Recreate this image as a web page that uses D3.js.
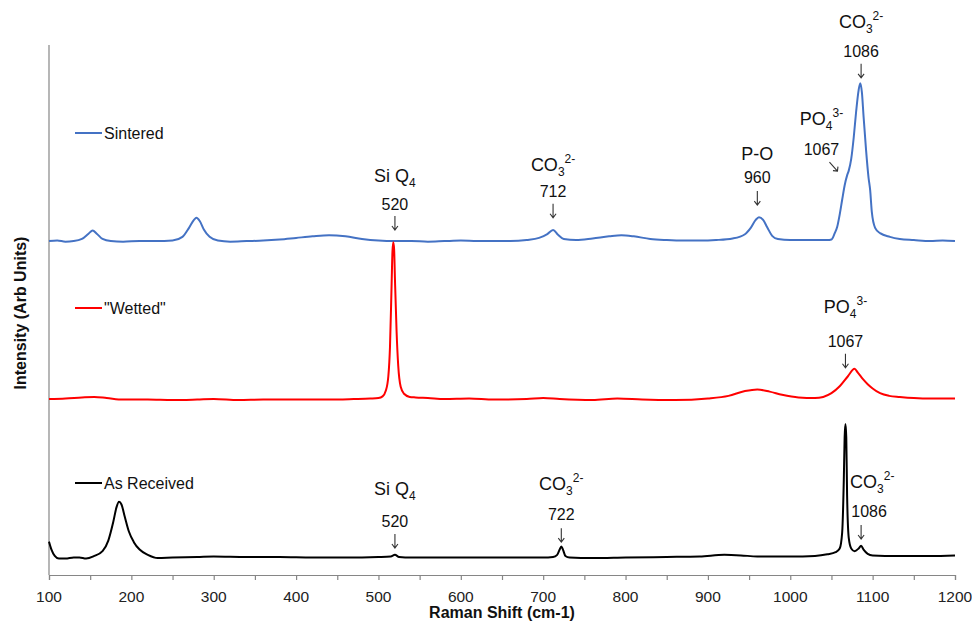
<!DOCTYPE html>
<html><head><meta charset="utf-8">
<script src="https://cdn.jsdelivr.net/npm/d3@7"></script>
<style>
body{margin:0;background:#fff;}
svg{font-family:Arial,"Liberation Sans",sans-serif;}
</style></head>
<body><svg id="c" width="972" height="625"></svg>
<script>
// ---------- data ----------
const seriesNames = ["Sintered", "\"Wetted\"", "As Received"];
const seriesColors = ["#4472C4", "#FF0000", "#000000"];

const sinteredShift = [100,110,120,130,140,148,153,158,165,175,190,210,230,250,262,270,276,279,283,288,295,305,320,340,360,380,400,420,440,460,480,500,520,540,560,580,600,620,640,660,680,695,705,712,718,725,740,760,780,795,810,830,850,870,890,910,930,945,952,958,962,967,972,978,985,1000,1020,1035,1045,1050,1054,1057,1060,1063,1066,1069,1071,1074,1077,1080,1083,1085,1087,1089,1092,1095,1097,1099,1103,1109,1121,1133,1150,1170,1185,1200];
const sinteredInt = [63.0,63.1,62.9,63.0,63.4,64.4,65.0,64.4,63.4,63.0,62.9,63.0,63.0,63.1,63.8,65.5,67.0,67.4,66.8,65.2,63.8,63.1,62.9,63.0,63.1,63.3,63.6,63.9,64.1,63.9,63.4,63.1,63.0,63.0,62.9,63.0,63.1,63.0,63.0,63.0,63.2,63.6,64.3,65.1,64.2,63.4,63.2,63.5,63.9,64.1,63.9,63.4,63.2,63.1,63.1,63.2,63.5,64.3,65.5,67.0,67.5,67.0,65.6,64.0,63.4,63.2,63.2,63.2,63.2,63.3,64.5,65.7,68.0,70.8,73.5,75.4,76.3,78.5,82.5,87.5,91.5,92.8,91.0,86.5,80.2,75.0,72.6,68.5,65.5,64.5,63.8,63.4,63.2,63.0,63.1,63.0];

const wettedShift = [100,120,140,155,170,190,220,250,280,300,330,360,400,440,470,490,500,505,509,512,514,516,517,518,519,520,522,524,527,531,538,545,560,580,610,640,680,700,720,760,790,820,860,900,925,945,960,975,990,1010,1030,1040,1050,1060,1070,1078,1082,1088,1094,1100,1109,1120,1133,1150,1170,1200];
const wettedInt = [33.2,33.3,33.5,33.6,33.4,33.1,33.1,33.0,33.1,33.2,33.0,33.1,33.1,33.1,33.2,33.3,33.4,33.7,34.8,37.5,43.0,55.0,61.0,62.8,61.5,56.0,46.0,39.5,35.5,34.2,33.6,33.5,33.4,33.2,33.3,33.1,33.2,33.4,33.2,33.0,33.3,33.1,33.0,33.3,33.8,34.7,35.0,34.6,34.0,33.5,33.4,33.6,34.3,35.6,37.5,38.9,38.2,37.0,36.0,35.2,34.3,33.8,33.6,33.4,33.3,33.3];

const receivedShift = [100,103,107,112,120,130,137,145,155,165,172,178,182,185,188,192,197,203,210,220,232,250,280,300,340,380,420,460,500,515,520,525,540,580,620,660,700,712,717,720,722,724,727,732,760,800,850,890,920,940,960,1000,1030,1045,1055,1060,1063,1065,1066,1067,1068,1069,1071,1074,1078,1083,1086,1089,1094,1100,1130,1170,1200];
const receivedInt = [6.3,4.8,3.6,3.1,3.1,3.3,3.3,3.1,3.6,4.5,6.5,10.0,12.8,13.8,13.3,11.0,8.2,6.2,4.8,3.8,3.2,3.3,3.4,3.5,3.4,3.4,3.3,3.3,3.4,3.5,3.8,3.4,3.3,3.3,3.3,3.3,3.3,3.4,3.8,4.8,5.4,4.8,3.6,3.3,3.2,3.3,3.4,3.5,3.8,3.7,3.5,3.5,3.6,3.9,4.3,5.0,8.0,18.0,26.0,28.5,26.0,15.0,7.0,5.0,4.5,5.0,5.5,4.8,4.0,3.7,3.6,3.6,3.7];

const xTickValues = [100,150,200,250,300,350,400,450,500,550,600,650,700,750,800,850,900,950,1000,1050,1100,1150,1200];
const xTickLabels = ["100","200","300","400","500","600","700","800","900","1000","1100","1200"];

// annotations
const annSeries  = [0,0,0,0,0,1,2,2,2];
const annBase    = ["Si Q","CO","P-O","PO","CO","PO","Si Q","CO","CO"];
const annSub     = ["4","3","","4","3","4","4","3","3"];
const annSup     = ["","2-","","3-","2-","3-","","2-","2-"];
const annNumber  = ["520","712","960","1067","1086","1067","520","722","1086"];
const annShift   = [520,712,960,1067,1086,1067,520,722,1086];
const annTip     = [65.1,67.4,69.8,76.2,93.8,39.1,5.1,6.2,6.8];

// ---------- drawing ----------
const svg = d3.select("#c");
const x = d3.scaleLinear().domain([100,1200]).range([49,955]);
const y = d3.scaleLinear().domain([0,100]).range([575,45]);

const seriesData = [
  d3.zip(sinteredShift, sinteredInt),
  d3.zip(wettedShift, wettedInt),
  d3.zip(receivedShift, receivedInt)
];

const line = d3.line().x(d=>x(d[0])).y(d=>y(d[1])).curve(d3.curveMonotoneX);

// axes
const axisColor = "#868686";
svg.append("line").attr("x1",x(100)).attr("x2",x(100)).attr("y1",y(100)).attr("y2",y(0))
  .attr("stroke",axisColor).attr("stroke-width",1.2);
const xa = svg.append("g").attr("transform",`translate(0,${y(0)})`)
  .call(d3.axisBottom(x).tickValues(xTickValues).tickSize(5).tickFormat(""));
xa.select(".domain").attr("stroke",axisColor).attr("stroke-width",1.2);
xa.selectAll(".tick line").attr("stroke",axisColor).attr("stroke-width",1.2);
svg.append("g").selectAll("text").data(xTickLabels).join("text")
  .attr("x",d=>x(+d)).attr("y",602).attr("text-anchor","middle")
  .attr("font-size",15.5).attr("fill","#222").text(d=>d);

svg.append("text").attr("x",(x(100)+x(1200))/2).attr("y",618).attr("text-anchor","middle")
  .attr("font-size",16).attr("font-weight","bold").attr("fill","#111").text("Raman Shift (cm-1)");
svg.append("text").attr("transform",`translate(26,${(y(0)+y(100))/2+3}) rotate(-90)`)
  .attr("text-anchor","middle").attr("font-size",16).attr("font-weight","bold").attr("fill","#111")
  .text("Intensity (Arb Units)");

// spectra
svg.append("g").selectAll("path").data(seriesData).join("path")
  .attr("d",line).attr("fill","none")
  .attr("stroke",(d,i)=>seriesColors[i]).attr("stroke-width",2).attr("stroke-linejoin","round");

// legends (inside, left of each spectrum)
const legY = [133,308,483];
const leg = svg.append("g").selectAll("g").data(seriesNames).join("g")
  .attr("transform",(d,i)=>`translate(75,${legY[i]})`);
leg.append("line").attr("x1",0).attr("x2",27).attr("stroke",(d,i)=>seriesColors[i]).attr("stroke-width",2);
leg.append("text").attr("x",29).attr("y",6).attr("font-size",16).attr("fill","#111").text(d=>d);

// annotations
const annDx      = [0,0,0,-24,0,0,0,0,8];
const annNumRise = [20,21,22,16,21,21,21,22,22];
const annLabRise = [48,47,45,46,50,55,53,52,51];
const g = svg.append("g");
annShift.forEach((s,i)=>{
  const ax = x(s), T = y(annTip[i]);
  const tx = ax + annDx[i];
  const diag = (i===3);
  const tipX = diag ? ax - 8 : ax;
  const lab = g.append("text").attr("x",tx).attr("y",T-annLabRise[i]).attr("font-size",18)
    .attr("fill","#111").attr("text-anchor", i===8 ? "start" : "middle");
  if (i===8) lab.attr("x", ax - 11);
  lab.append("tspan").text(annBase[i]);
  if (annSub[i]) lab.append("tspan").attr("font-size",12).attr("dy",5).text(annSub[i]);
  if (annSup[i]) lab.append("tspan").attr("font-size",12).attr("dy",annSub[i]? -13 : -8).text(annSup[i]);
  g.append("text").attr("x",tx).attr("y",T-annNumRise[i]).attr("font-size",16)
    .attr("fill","#111").attr("text-anchor","middle").text(annNumber[i]);
  const p = d3.path();
  if (diag) {
    p.moveTo(tipX-8,T-9); p.lineTo(tipX,T);
    p.moveTo(tipX-4.5,T-0.5); p.lineTo(tipX,T); p.lineTo(tipX+0.5,T-4.5);
  } else {
    p.moveTo(tipX,T-14); p.lineTo(tipX,T);
    p.moveTo(tipX-3,T-4); p.lineTo(tipX,T); p.lineTo(tipX+3,T-4);
  }
  g.append("path").attr("d",p.toString()).attr("fill","none").attr("stroke","#333").attr("stroke-width",1.1);
});
</script></body></html>
